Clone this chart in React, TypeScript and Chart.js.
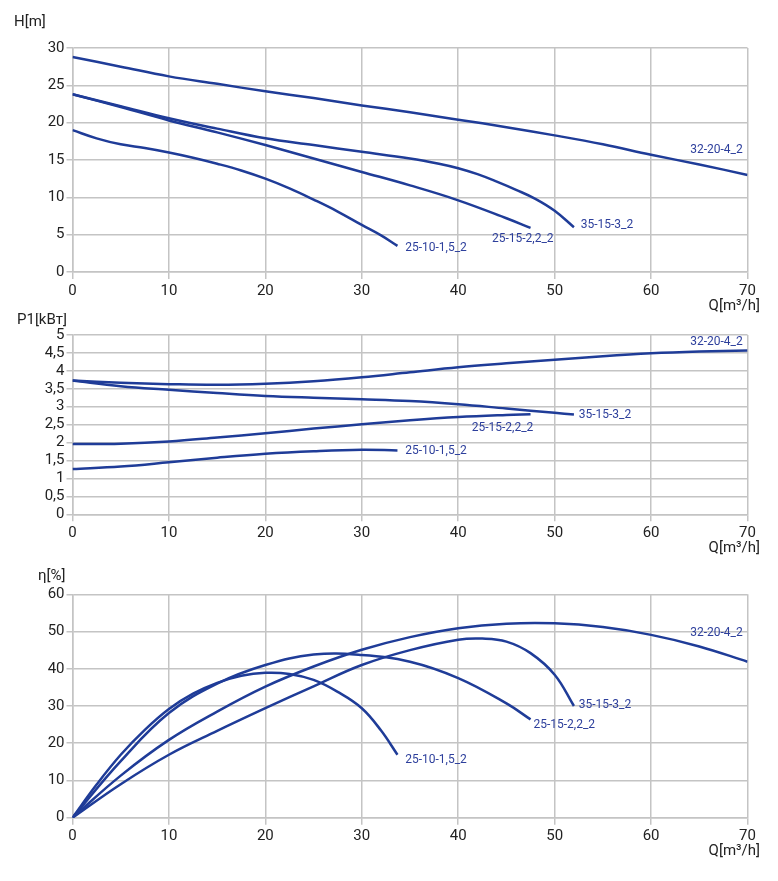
import React, { useEffect, useRef } from "react";
import { Chart, registerables } from "chart.js";

Chart.register(...registerables);
Chart.defaults.font.family = "Roboto";

// ---------- H [m] ----------
const hQ_32204 = [0, 5, 10, 15, 20, 25, 30, 35, 40, 45, 50, 55, 60, 65, 70];
const h_32204 = [28.8, 27.5, 26.2, 25.2, 24.2, 23.3, 22.3, 21.4, 20.4, 19.4, 18.3, 17.1, 15.7, 14.4, 13.0];
const hQ_35153 = [0, 5, 10, 15, 20, 25, 30, 35, 38, 40, 42, 44, 46, 48, 50, 52];
const h_35153 = [23.8, 22.2, 20.6, 19.2, 17.9, 17.0, 16.1, 15.2, 14.5, 13.9, 13.1, 12.1, 11.0, 9.8, 8.2, 6.0];
const hQ_251522 = [0, 5, 10, 15, 20, 25, 30, 35, 40, 45, 47.5];
const h_251522 = [23.8, 22.1, 20.3, 18.7, 17.0, 15.2, 13.4, 11.6, 9.6, 7.2, 5.9];
const hQ_251015 = [0, 2.5, 5, 7.5, 10, 12.5, 15, 17.5, 20, 22.5, 25, 27.5, 30, 32, 33.7];
const h_251015 = [19.0, 17.9, 17.1, 16.6, 16.0, 15.3, 14.5, 13.6, 12.5, 11.2, 9.7, 8.1, 6.3, 4.9, 3.5];

// ---------- P1 [kВт] ----------
const pQ_32204 = [0, 5, 10, 15, 20, 25, 30, 35, 40, 45, 50, 55, 60, 65, 70];
const p_32204 = [3.73, 3.67, 3.63, 3.61, 3.64, 3.71, 3.82, 3.96, 4.1, 4.21, 4.31, 4.41, 4.49, 4.54, 4.57];
const pQ_35153 = [0, 5, 10, 15, 20, 25, 30, 35, 40, 45, 50, 52];
const p_35153 = [3.73, 3.57, 3.47, 3.38, 3.3, 3.25, 3.21, 3.16, 3.07, 2.95, 2.83, 2.78];
const pQ_251522 = [0, 5, 10, 15, 20, 25, 30, 35, 40, 45, 47.5];
const p_251522 = [1.96, 1.97, 2.03, 2.14, 2.26, 2.39, 2.51, 2.62, 2.71, 2.77, 2.79];
const pQ_251015 = [0, 5, 10, 15, 20, 25, 30, 33.7];
const p_251015 = [1.26, 1.33, 1.45, 1.58, 1.69, 1.76, 1.8, 1.78];

// ---------- η [%] ----------
const eQ_32204 = [0, 5, 10, 15, 20, 25, 30, 35, 40, 45, 50, 55, 60, 65, 70];
const e_32204 = [0, 11.3, 20.9, 28.5, 35.2, 40.6, 45.1, 48.5, 50.9, 52.1, 52.2, 51.2, 49.1, 46.0, 41.9];
const eQ_35153 = [0, 5, 10, 15, 20, 25, 30, 35, 40, 42.5, 45, 47.5, 50, 52];
const e_35153 = [0, 9, 16.9, 23.3, 29.4, 35.3, 41.0, 45.0, 47.8, 48.1, 47.3, 44.2, 38.4, 30.0];
const eQ_251522 = [0, 5, 10, 15, 20, 25, 30, 35, 40, 45, 47.5];
const e_251522 = [0, 15.2, 28.1, 36.0, 41.0, 43.8, 43.7, 41.9, 37.5, 30.7, 26.4];
const eQ_251015 = [0, 2.5, 5, 7.5, 10, 12.5, 15, 17.5, 20, 22.5, 25, 27.5, 30, 32, 33.7];
const e_251015 = [0, 8.9, 16.9, 23.6, 29.2, 33.3, 36.2, 38.1, 38.9, 38.6, 37.0, 33.8, 29.4, 23.4, 16.9];

// ---------- series names & label anchors ----------
const seriesNames = ["32-20-4_2", "35-15-3_2", "25-15-2,2_2", "25-10-1,5_2"];
const hLabelQ = [69.5, 52.7, 43.5, 34.5];
const hLabelV = [16.3, 6.3, 4.4, 3.2];
const pLabelQ = [69.5, 52.5, 41.4, 34.5];
const pLabelV = [4.81, 2.77, 2.42, 1.77];
const eLabelQ = [69.5, 52.5, 47.8, 34.5];
const eLabelV = [49.5, 30.2, 24.9, 15.5];
const labelAlign = ["right", "left", "left", "left"];

const qTickStep = 10;
const qMax = 70;

const LINE = "#1f3c98";
const LABEL = "#2d3f9c";
const GRID = "#c4c4c4";
const TEXT = "#222222";

const pts = (qs: number[], vs: number[]) => qs.map((q, i) => ({ x: q, y: vs[i] }));

const textPlugin = {
  id: "texts",
  afterDraw(chart: any, _args: any, opts: any) {
    const { ctx, chartArea, scales } = chart;
    ctx.save();
    ctx.textBaseline = "middle";
    ctx.fillStyle = TEXT;
    ctx.font = "15px Roboto";
    ctx.textAlign = "left";
    ctx.fillText(opts.title, opts.titleX, chartArea.top - opts.titleDy);
    ctx.textAlign = "right";
    ctx.fillText("Q[m³/h]", chart.width - 10, chartArea.bottom + 34);
    ctx.font = "12px Roboto";
    ctx.fillStyle = LABEL;
    opts.names.forEach((n: string, i: number) => {
      ctx.textAlign = labelAlign[i];
      ctx.fillText(n, scales.x.getPixelForValue(opts.lq[i]), scales.y.getPixelForValue(opts.lv[i]));
    });
    ctx.restore();
  },
};

type Cfg = {
  series: { x: number; y: number }[][];
  yMax: number;
  yStep: number;
  comma?: boolean;
  title: string;
  titleX: number;
  titleDy: number;
  lq: number[];
  lv: number[];
  padTop: number;
  padBottom: number;
};

function PumpChart({ cfg, height }: { cfg: Cfg; height: number }) {
  const ref = useRef<HTMLCanvasElement>(null);
  useEffect(() => {
    if (!ref.current) return;
    const chart = new Chart(ref.current, {
      type: "line",
      data: {
        datasets: cfg.series.map((d, i) => ({
          label: seriesNames[i],
          data: d,
          borderColor: LINE,
          borderWidth: 2.5,
          pointRadius: 0,
          fill: false,
          tension: 0.4,
        })),
      },
      options: {
        animation: false,
        responsive: true,
        maintainAspectRatio: false,
        layout: { padding: { left: 0, right: 22.5, top: cfg.padTop, bottom: cfg.padBottom } },
        plugins: {
          legend: { display: false },
          tooltip: { enabled: false },
          texts: {
            title: cfg.title,
            titleX: cfg.titleX,
            titleDy: cfg.titleDy,
            names: seriesNames,
            lq: cfg.lq,
            lv: cfg.lv,
          },
        } as any,
        scales: {
          x: {
            type: "linear",
            min: 0,
            max: qMax,
            ticks: { stepSize: qTickStep, color: TEXT, font: { size: 15 }, padding: 3, maxRotation: 0, autoSkip: false },
            grid: { color: GRID, lineWidth: 1.5, tickLength: 7 },
            border: { color: GRID, width: 1.5 },
            afterFit: (s: any) => {
              s.height = 30;
            },
          },
          y: {
            type: "linear",
            min: 0,
            max: cfg.yMax,
            ticks: {
              stepSize: cfg.yStep,
              autoSkip: false,
              color: TEXT,
              font: { size: 15 },
              padding: 2,
              callback: (v: any) => (cfg.comma ? String(v).replace(".", ",") : String(v)),
            },
            grid: { color: GRID, lineWidth: 1.5, tickLength: 6 },
            border: { color: GRID, width: 1.5 },
            afterFit: (s: any) => {
              s.width = 64.5;
            },
          },
        },
      },
      plugins: [textPlugin],
    });
    return () => chart.destroy();
  }, []);
  return (
    <div style={{ position: "relative", height, width: "100%" }}>
      <canvas ref={ref} style={{ display: "block" }} />
    </div>
  );
}

const hCfg: Cfg = {
  series: [pts(hQ_32204, h_32204), pts(hQ_35153, h_35153), pts(hQ_251522, h_251522), pts(hQ_251015, h_251015)],
  yMax: 30,
  yStep: 5,
  title: "H[m]",
  titleX: 6,
  titleDy: 26,
  lq: hLabelQ,
  lv: hLabelV,
  padTop: 40,
  padBottom: 11,
};

const pCfg: Cfg = {
  series: [pts(pQ_32204, p_32204), pts(pQ_35153, p_35153), pts(pQ_251522, p_251522), pts(pQ_251015, p_251015)],
  yMax: 5,
  yStep: 0.5,
  comma: true,
  title: "P1[kBт]",
  titleX: 9,
  titleDy: 15,
  lq: pLabelQ,
  lv: pLabelV,
  padTop: 22,
  padBottom: 15.7,
};

const eCfg: Cfg = {
  series: [pts(eQ_32204, e_32204), pts(eQ_35153, e_35153), pts(eQ_251522, e_251522), pts(eQ_251015, e_251015)],
  yMax: 60,
  yStep: 10,
  title: "η[%]",
  titleX: 30,
  titleDy: 18,
  lq: eLabelQ,
  lv: eLabelV,
  padTop: 34.3,
  padBottom: 24.3,
};

export default function App() {
  return (
    <div style={{ background: "#fff" }}>
      <PumpChart cfg={hCfg} height={305} />
      <PumpChart cfg={pCfg} height={247} />
      <PumpChart cfg={eCfg} height={312} />
    </div>
  );
}
